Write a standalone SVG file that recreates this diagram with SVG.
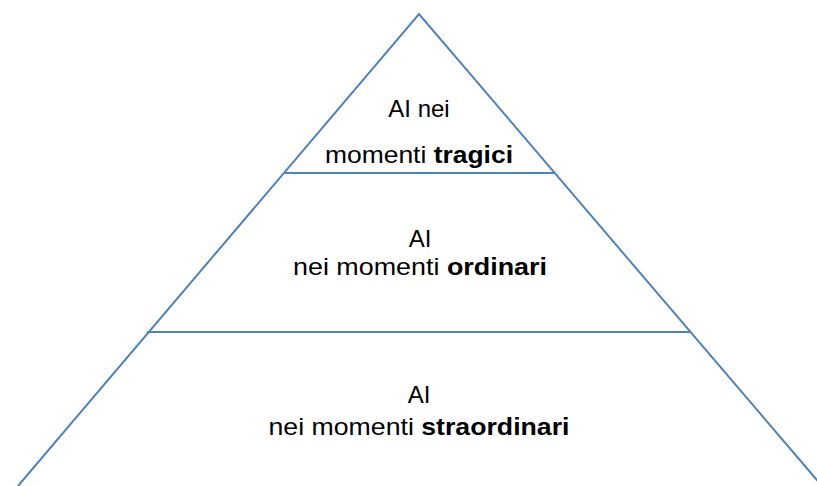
<svg xmlns="http://www.w3.org/2000/svg" width="817" height="486" viewBox="0 0 817 486">
<style>
.edge{stroke:#4f81bd;stroke-width:2;fill:none}
.t{font-family:"Liberation Sans",Arial,sans-serif;font-size:24px;fill:#000;text-anchor:middle}
.b{font-weight:bold}
</style>
<rect width="817" height="486" fill="#fff"/>
<g id="pyramid-outline">
<polyline class="edge" points="18,486 419,14 822,486"/>
</g>
<g id="tier-top">
<line class="edge" x1="285" y1="173" x2="554" y2="173"/>
<text class="t" x="419" y="117">AI nei</text>
<text class="t" x="419" y="163" textLength="188" lengthAdjust="spacingAndGlyphs">momenti <tspan class="b">tragici</tspan></text>
</g>
<g id="tier-middle">
<line class="edge" x1="147" y1="332" x2="691" y2="332"/>
<text class="t" x="420" y="247">AI</text>
<text class="t" x="420" y="275" textLength="254" lengthAdjust="spacingAndGlyphs">nei momenti <tspan class="b">ordinari</tspan></text>
</g>
<g id="tier-bottom">
<text class="t" x="419" y="403">AI</text>
<text class="t" x="419" y="435" textLength="301" lengthAdjust="spacingAndGlyphs">nei momenti <tspan class="b">straordinari</tspan></text>
</g>
</svg>
